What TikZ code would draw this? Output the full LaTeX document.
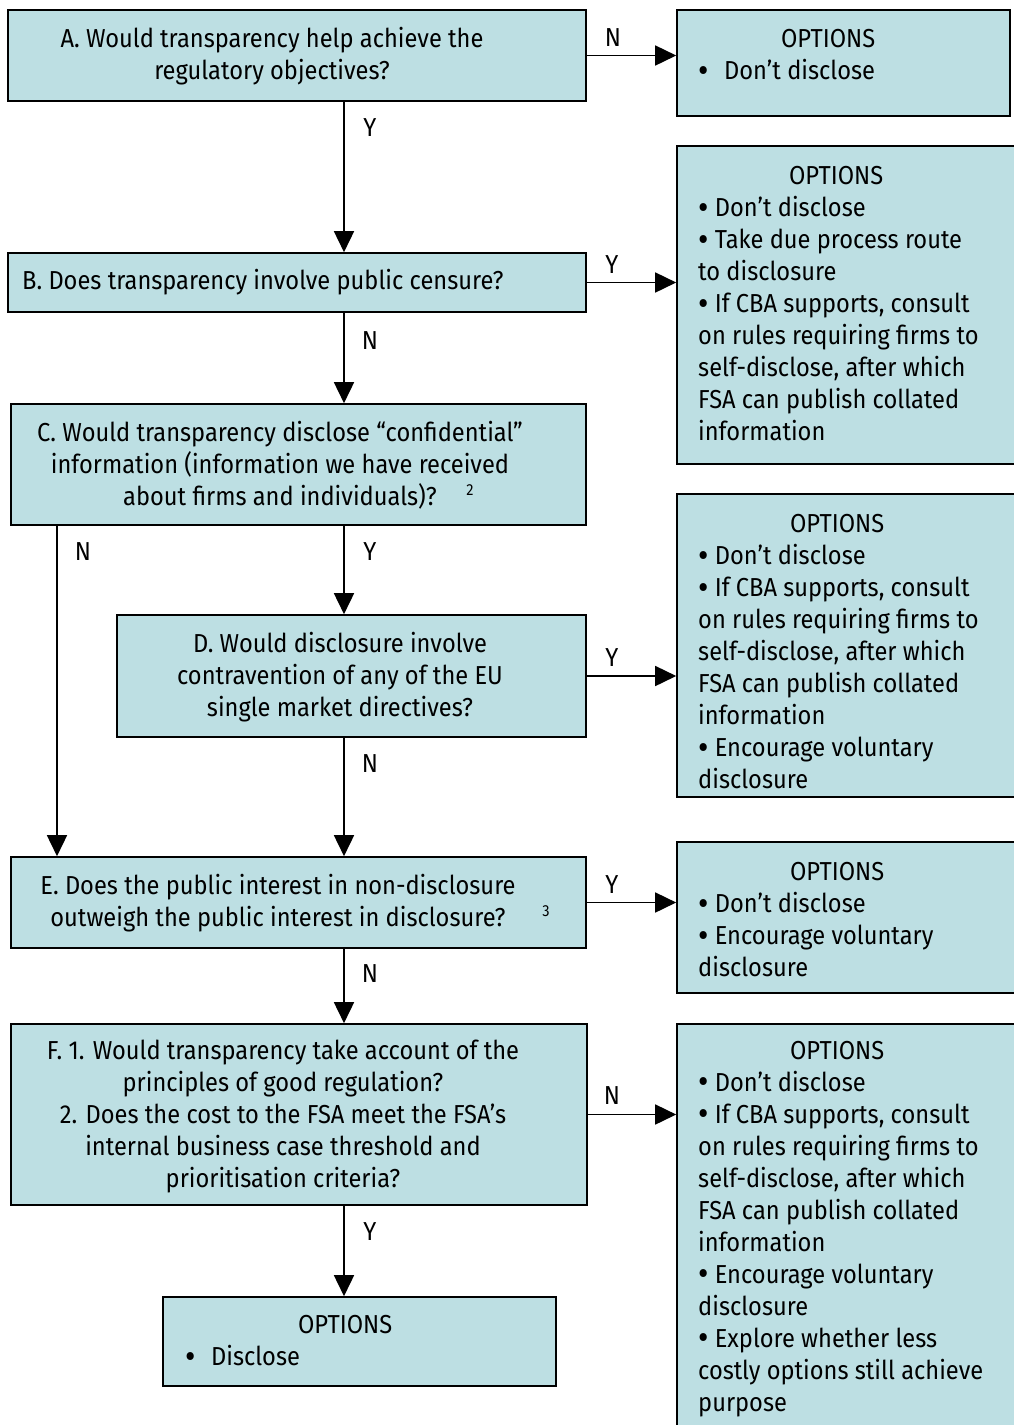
\documentclass[tikz,border=0pt]{standalone}
\usepackage{fontspec}
\setmainfont{Fira Sans}[FakeStretch=0.91]
\usetikzlibrary{arrows.meta}
\definecolor{boxblue}{RGB}{189,223,227}
\newcommand{\fs}{\fontsize{26}{32}\selectfont}
\newcommand{\supfs}{\fontsize{16}{18}\selectfont}
\newcommand{\bul}{\raisebox{-0.1em}{\scalebox{1.35}{•}}}
\begin{document}
\begin{tikzpicture}[x=1pt,y=-1pt,
  box/.style={draw=black, line width=1.6pt, fill=boxblue, inner sep=0pt},
  txt/.style={font=\fs, inner sep=0pt, align=center},
  opt/.style={font=\fs, inner sep=0pt, align=left, anchor=west},
  lbl/.style={font=\fs, inner sep=0pt},
  supl/.style={font=\supfs, inner sep=0pt},
  arr/.style={draw=black, line width=1.6pt, -{Triangle[length=21pt,width=20pt]}}]
\useasboundingbox (0,0) rectangle (1014,1425);
\coordinate (spine) at (344,0);
\coordinate (leftx) at (57,0);
% boxes
\node[box, minimum width=578pt, minimum height=91pt] (A) at (297,55.5) {};
\node[box, minimum width=333pt, minimum height=106pt] (A1) at (843.5,63) {};
\node[box, minimum width=578pt, minimum height=59pt] (B) at (297,282.5) {};
\node[box, minimum width=343pt, minimum height=318pt] (B1) at (848.5,305) {};
\node[box, minimum width=575pt, minimum height=121pt] (C) at (298.5,464.5) {};
\node[box, minimum width=469pt, minimum height=122pt] (D) at (351.5,676) {};
\node[box, minimum width=343pt, minimum height=303pt] (D1) at (848.5,645.5) {};
\node[box, minimum width=575pt, minimum height=91pt] (E) at (298.5,902.5) {};
\node[box, minimum width=343pt, minimum height=151pt] (E1) at (848.5,917.5) {};
\node[box, minimum width=576pt, minimum height=181pt] (F) at (299,1114.5) {};
\node[box, minimum width=343pt, minimum height=416pt] (F1) at (848.5,1232) {};
\node[box, minimum width=393pt, minimum height=89pt] (G) at (359.5,1341.5) {};
% question texts
\node[txt] (tA) at (272,56) {A. Would transparency help achieve the\\regulatory objectives?};
\node[txt, anchor=west] (tB) at (22,282) {B. Does transparency involve public censure?};
\node[txt] (tC) at (280,465) {C. Would transparency disclose “confidential”\\information (information we have received\\about firms and individuals)?};
\node[supl] (sC) at (470,490) {2};
\node[txt] (tD) at (340,677) {D. Would disclosure involve\\contravention of any of the EU\\single market directives?};
\node[txt] (tE) at (278,903) {E. Does the public interest in non-disclosure\\outweigh the public interest in disclosure?};
\node[supl] (sE) at (546,911) {3};
\node[txt] (tF) at (283,1117) {F. 1. Would transparency take account of the\\principles of good regulation?\\2. Does the cost to the FSA meet the FSA’s\\internal business case threshold and\\prioritisation criteria?};
% option texts
\node[opt] (oA) at (698,56) {\makebox[260pt]{OPTIONS}\\\bul\hspace{0.6em}Don’t disclose};
\node[opt] (oB) at (698,304) {\makebox[276pt]{OPTIONS}\\\bul{} Don’t disclose\\\bul{} Take due process route\\to disclosure\\\bul{} If CBA supports, consult\\on rules requiring firms to\\self-disclose, after which\\FSA can publish collated\\information};
\node[opt] (oD) at (698,652) {\makebox[278pt]{OPTIONS}\\\bul{} Don’t disclose\\\bul{} If CBA supports, consult\\on rules requiring firms to\\self-disclose, after which\\FSA can publish collated\\information\\\bul{} Encourage voluntary\\disclosure};
\node[opt] (oE) at (698,920) {\makebox[278pt]{OPTIONS}\\\bul{} Don’t disclose\\\bul{} Encourage voluntary\\disclosure};
\node[opt] (oF) at (698,1229) {\makebox[278pt]{OPTIONS}\\\bul{} Don’t disclose\\\bul{} If CBA supports, consult\\on rules requiring firms to\\self-disclose, after which\\FSA can publish collated\\information\\\bul{} Encourage voluntary\\disclosure\\\bul{} Explore whether less\\costly options still achieve\\purpose};
\node[opt] (oG) at (185,1342) {\makebox[320pt]{OPTIONS}\\\bul\hspace{0.6em}Disclose};
% connectors
\draw[arr] (A.east) -- (A.east -| A1.west);
\draw[arr] (A.south -| spine) -- (B.north -| spine);
\draw[arr] (B.east) -- (B.east -| B1.west);
\draw[arr] (B.south -| spine) -- (C.north -| spine);
\draw[arr] (C.south -| leftx) -- (E.north -| leftx);
\draw[arr] (C.south -| spine) -- (D.north -| spine);
\draw[arr] (D.east) -- (D.east -| D1.west);
\draw[arr] (D.south -| spine) -- (E.north -| spine);
\draw[arr] (E.east) -- (E.east -| E1.west);
\draw[arr] (E.south -| spine) -- (F.north -| spine);
\draw[arr] (F.east) -- (F.east -| F1.west);
\draw[arr] (F.south -| spine) -- (G.north -| spine);
% labels
\node[lbl] (l1) at (613,38) {N};
\node[lbl] (l2) at (370,128) {Y};
\node[lbl] (l3) at (612,265) {Y};
\node[lbl] (l4) at (370,341) {N};
\node[lbl] (l5) at (83,552) {N};
\node[lbl] (l6) at (370,552) {Y};
\node[lbl] (l7) at (612,658) {Y};
\node[lbl] (l8) at (370,764) {N};
\node[lbl] (l9) at (612,885) {Y};
\node[lbl] (l10) at (370,974) {N};
\node[lbl] (l11) at (612,1096) {N};
\node[lbl] (l12) at (370,1232) {Y};
\end{tikzpicture}
\end{document}
